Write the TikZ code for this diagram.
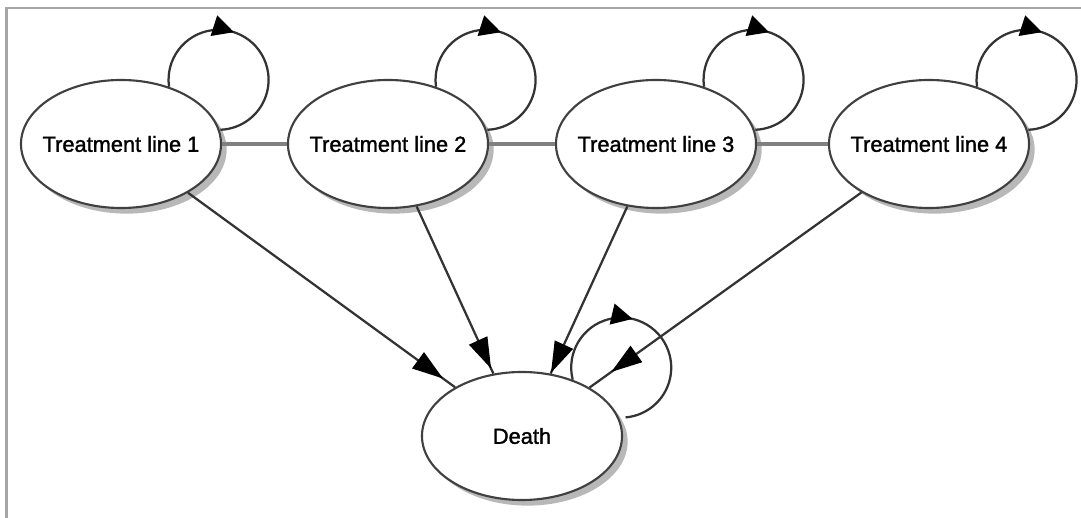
\documentclass[tikz,border=0pt]{standalone}
\usepackage{fontspec}
\setmainfont{Liberation Sans}
\newfontfamily\labelfont[FakeBold=1.5]{Liberation Sans}
\usetikzlibrary{shapes.geometric,arrows.meta,decorations.markings,shadows}

\begin{document}
\begin{tikzpicture}
[x=0.025cm,y=0.025cm,
every node/.style={draw=black!75,ellipse,line width=1.5pt,fill=white,minimum width=5cm,minimum height=3.2cm,inner xsep=-8pt,inner ysep=0pt,font=\labelfont\fontsize{15.5}{18}\selectfont,drop shadow={shadow xshift=4pt,shadow yshift=-4pt,fill=black!28,opacity=1}},
boxline/.style={draw=black!35,line width=2pt},
link/.style={draw=black!50,line width=2.4pt},
arr/.style={black!80,line width=1.6pt,postaction={decorate},decoration={markings,mark=at position #1 with {\arrow{Triangle[length=22pt,width=14pt,color=black]}}}},
selfloop/.style={black!80,line width=1.6pt,postaction={decorate},decoration={markings,mark=at position 0.42 with {\arrow{Triangle[length=15pt,width=15pt,color=black]}}}}]
\useasboundingbox (0,0) rectangle (1081,-518);
\draw[boxline] (6.5,-518) -- (6.5,-8) -- (1081,-8);
\node (t1) at (121,-144) {Treatment line 1};
\node (t2) at (388,-144) {Treatment line 2};
\node (t3) at (656,-144) {Treatment line 3};
\node (t4) at (929,-144) {Treatment line 4};
\node (death) at (522,-436) {Death};
\draw[link] (t1) -- (t2);
\draw[link] (t2) -- (t3);
\draw[link] (t3) -- (t4);
\foreach \n in {t1,t2,t3,t4}
  \draw[selfloop] (\n.50) arc[start angle=188,end angle=-88,radius=1.25cm];
\draw[selfloop] (death.48) arc[start angle=194,end angle=-85,radius=1.25cm];
\foreach \n/\p in {t1/0.955,t2/0.97,t3/0.995,t4/0.92}
  \draw[arr=\p] (\n) -- (death);
\end{tikzpicture}
\end{document}
